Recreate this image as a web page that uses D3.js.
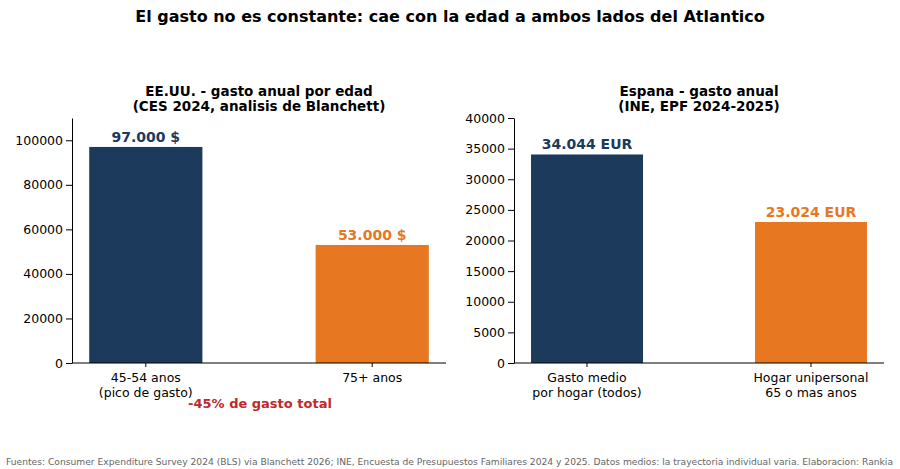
<!DOCTYPE html>
<html><head><meta charset="utf-8">
<script src="https://cdn.jsdelivr.net/npm/d3@7"></script>
<style>body{margin:0;background:#fff}text{font-family:"DejaVu Sans",sans-serif}</style>
</head><body><svg id="c" width="900" height="469"></svg>
<script>
const usCategories=["45-54 anos\n(pico de gasto)","75+ anos"];
const usValues=[97000,53000];
const usLabels=["97.000 $","53.000 $"];
const esCategories=["Gasto medio\npor hogar (todos)","Hogar unipersonal\n65 o mas anos"];
const esValues=[34044,23024];
const esLabels=["34.044 EUR","23.024 EUR"];
const usTicks=[0,20000,40000,60000,80000,100000];
const esTicks=[0,5000,10000,15000,20000,25000,30000,35000,40000];
const colors=["#1b3a5c","#e87722"];
const svg=d3.select("#c");
svg.append("text").attr("x",450).attr("y",22).attr("text-anchor","middle").attr("font-size",16).attr("font-weight","bold").text("El gasto no es constante: cae con la edad a ambos lados del Atlantico");
function panel(x0,x1,cats,vals,labs,ticks,ymax,t1,t2){
  const top=118,bot=363;
  const x=d3.scaleLinear().domain([-0.326,1.326]).range([x0,x1]);
  const y=d3.scaleLinear().domain([0,ymax]).range([bot,top]);
  const g=svg.append("g");
  vals.forEach((v,i)=>{
    g.append("rect").attr("x",x(i-0.25)).attr("width",x(0.25)-x(-0.25)).attr("y",y(v)).attr("height",bot-y(v)).attr("fill",colors[i]);
    g.append("text").attr("x",x(i)).attr("y",y(v)-5).attr("text-anchor","middle").attr("font-size",14).attr("font-weight","bold").attr("fill",colors[i]).text(labs[i]);
    cats[i].split("\n").forEach((l,j)=>g.append("text").attr("x",x(i)).attr("y",bot+19+j*15).attr("text-anchor","middle").attr("font-size",12.5).text(l));
    g.append("line").attr("x1",x(i)).attr("x2",x(i)).attr("y1",bot).attr("y2",bot+4).attr("stroke","#000");
  });
  const ax=g.append("g").attr("transform",`translate(${x0},0)`).call(d3.axisLeft(y).tickValues(ticks).tickFormat(d3.format("d")).tickSizeOuter(0));
  ax.selectAll("text").attr("font-size",12.5).attr("fill","#000").style("font-family","DejaVu Sans");
  ax.select(".domain").attr("stroke","#000");
  g.append("line").attr("x1",x0).attr("x2",x1).attr("y1",bot).attr("y2",bot).attr("stroke","#000");
  const cx=(x0+x1)/2;
  g.append("text").attr("x",cx).attr("y",96).attr("text-anchor","middle").attr("font-size",13.5).attr("font-weight","bold").text(t1);
  g.append("text").attr("x",cx).attr("y",111).attr("text-anchor","middle").attr("font-size",13.5).attr("font-weight","bold").text(t2);
}
panel(72,446,usCategories,usValues,usLabels,usTicks,110000,"EE.UU. - gasto anual por edad","(CES 2024, analisis de Blanchett)");
panel(514,884,esCategories,esValues,esLabels,esTicks,40000,"Espana - gasto anual","(INE, EPF 2024-2025)");
svg.append("text").attr("x",260).attr("y",408).attr("text-anchor","middle").attr("font-size",13).attr("font-weight","bold").attr("fill","#c0282d").text("-45% de gasto total");
svg.append("text").attr("x",6).attr("y",465).attr("font-size",9).attr("fill","#666").attr("textLength",887).attr("lengthAdjust","spacingAndGlyphs").text("Fuentes: Consumer Expenditure Survey 2024 (BLS) via Blanchett 2026; INE, Encuesta de Presupuestos Familiares 2024 y 2025. Datos medios: la trayectoria individual varia. Elaboracion: Rankia");
</script></body></html>
